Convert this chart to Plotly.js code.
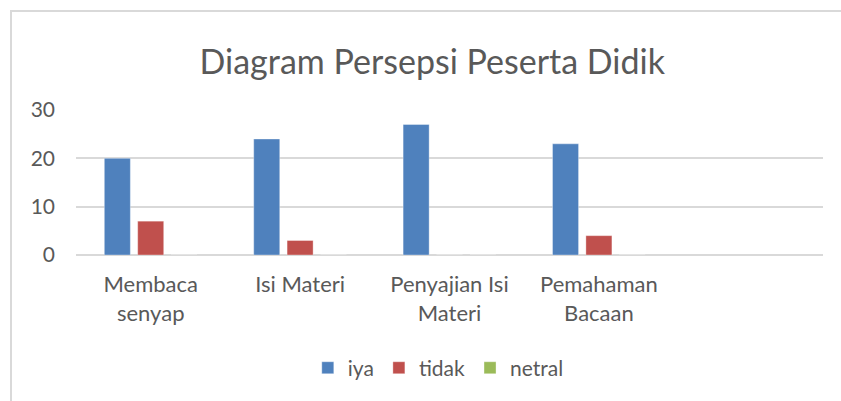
<!DOCTYPE html>
<html>
<head>
<meta charset="utf-8">
<script src="https://cdn.plot.ly/plotly-3.0.1.min.js"></script>
<style>
  html, body { margin: 0; padding: 0; background: #fff; }
  #wrap { position: absolute; left: 0; top: 0; width: 841px; height: 401px; overflow: hidden; }
  #frame { position: absolute; left: 10px; top: 10px; width: 900px; height: 500px; border-left: 2px solid #d9d9d9; border-top: 2px solid #d9d9d9; }
  #chart { position: absolute; left: 0; top: 0; width: 841px; height: 401px; }
</style>
</head>
<body>
<div id="wrap">
  <div id="frame"></div>
  <div id="chart"></div>
</div>
<script>
const categories = ["Membaca<br>senyap", "Isi Materi", "Penyajian Isi<br>Materi", "Pemahaman<br>Bacaan", " "];
const iya = [20, 24, 27, 23, null];
const tidak = [7, 3, 0, 4, null];
const netral = [0, 0, 0, 0, null];
const seriesNames = ["iya", "tidak", "netral"];
const seriesColors = ["#4f81bd", "#c0504d", "#9bbb59"];
const yTicks = [0, 10, 20, 30];

const FONT = "Lato, 'Open Sans', sans-serif";
const TXT = "#595959";

const traces = [iya, tidak, netral].map((vals, i) => ({
  type: "bar",
  x: categories,
  y: vals,
  name: seriesNames[i],
  marker: { color: seriesColors[i], line: { color: "rgba(255,255,255,0.35)", width: 1 } },
  hoverinfo: "none"
}));

const layout = {
  width: 841,
  height: 401,
  margin: { l: 76, r: 18, t: 110, b: 146, pad: 0 },
  paper_bgcolor: "rgba(0,0,0,0)",
  plot_bgcolor: "rgba(0,0,0,0)",
  title: {
    text: "Diagram Persepsi Peserta Didik",
    font: { family: FONT, size: 34, color: TXT },
    x: 0.514, xanchor: "center",
    y: 0.815, yanchor: "bottom", yref: "container"
  },
  barmode: "group",
  bargap: 0.33,
  bargroupgap: 0.22,
  showlegend: true,
  legend: {
    orientation: "h",
    x: 0.485, xanchor: "center",
    y: -0.78, yanchor: "middle",
    font: { family: FONT, size: 21, color: TXT },
    itemwidth: 30,
    traceorder: "normal"
  },
  xaxis: {
    type: "category",
    showgrid: false,
    showline: false,
    zeroline: false,
    ticks: "",
    tickfont: { family: FONT, size: 22, color: TXT },
    ticklabelstandoff: 14
  },
  yaxis: {
    range: [0, 30],
    tickvals: yTicks,
    ticktext: yTicks.map(String),
    showgrid: true,
    gridcolor: "#d9d9d9",
    gridwidth: 2,
    zeroline: true,
    zerolinecolor: "#d9d9d9",
    zerolinewidth: 2,
    showline: false,
    ticks: "",
    tickfont: { family: FONT, size: 21, color: TXT },
    ticklabelstandoff: 20,
    fixedrange: true
  }
};

Plotly.newPlot("chart", traces, layout, { displayModeBar: false, staticPlot: true });
</script>
</body>
</html>
